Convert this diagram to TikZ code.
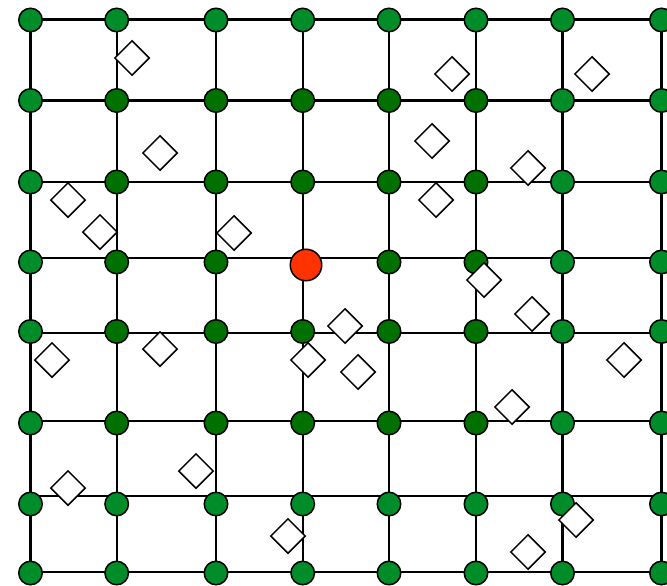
\documentclass[tikz,border=0pt]{standalone}
\usetikzlibrary{shapes.geometric,backgrounds}
\definecolor{lightg}{HTML}{008C28}
\definecolor{darkg}{HTML}{007000}
\definecolor{redn}{HTML}{FF3300}
\tikzset{
  gridline/.style={line width=2.4pt, draw=black},
  vtx/.style={circle, draw=black, line width=1.5pt, minimum size=23.5pt, inner sep=0pt},
  outerv/.style={vtx, fill=lightg},
  innerv/.style={vtx, fill=darkg},
  hub/.style={circle, draw=black, line width=1.5pt, fill=redn, minimum size=31.5pt, inner sep=0pt},
  dia/.style={diamond, aspect=1, draw=black, fill=white, line width=1.5pt, minimum width=35pt, minimum height=35pt, inner sep=0pt},
}
\begin{document}
\begin{tikzpicture}[x=1pt,y=-1pt]
\useasboundingbox (0,0) rectangle (667,586);
% vertices
\foreach \y [count=\r from 0] in {20,100.5,182,262,331.5,423,504,573} {
  \foreach \x [count=\c from 0] in {30.5,116.7,216,302.7,389,476,562.5,661.5} {
    \pgfmathtruncatemacro\inn{(\r>0)&&(\r<6)&&(\c>0)&&(\c<6)}
    \pgfmathtruncatemacro\hubq{(\r==3)&&(\c==3)}
    \ifnum\hubq=1
      \node[hub] (n-\r-\c) at (306,265) {};
    \else
      \ifnum\inn=1
        \node[innerv] (n-\r-\c) at (\x,\y) {};
      \else
        \node[outerv] (n-\r-\c) at (\x,\y) {};
      \fi
    \fi
  }
}
% grid lines
\begin{scope}[on background layer]
  \foreach \r/\dy in {0/0.5,1/0,2/0,3/4,4/-1.5,5/2,6/8,7/1}
    \draw[gridline] ([yshift=\dy pt]n-\r-0.center) -- ([yshift=\dy pt]n-\r-7.center);
  \foreach \c in {0,...,7}
    \draw[gridline] (n-0-\c.center) -- (n-7-\c.center);
\end{scope}
% diamonds
\foreach \x/\y [count=\i] in {132/58,452/74,592/74,160/153,432/141,528/168,68/200,436/200,100/232,234/233,484/280,532/314,345/326,52/360,160/349,308/360,358/372,624/360,512/407,196/471,68/488,288/536,576/520,528/552}
  \node[dia] (d\i) at (\x,\y) {};
\end{tikzpicture}
\end{document}
